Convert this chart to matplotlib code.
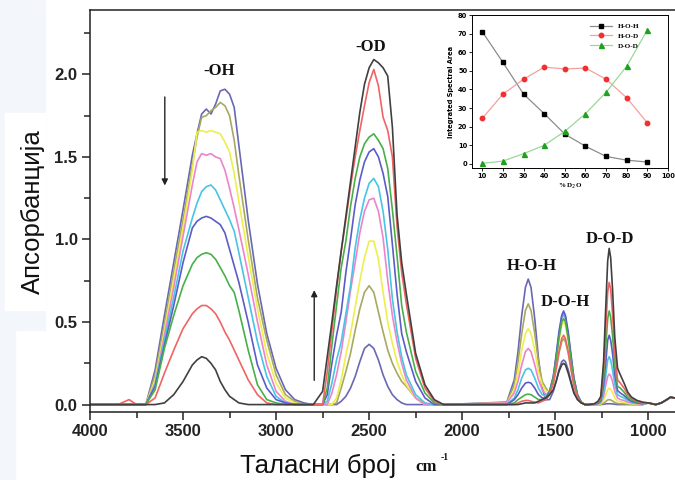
import matplotlib
matplotlib.use("Agg")
import matplotlib.pyplot as plt
from matplotlib.ticker import MultipleLocator
from matplotlib.patches import Rectangle

# ---------------- data ----------------
# curves ordered by D2O content: 10 % ... 90 %
d2o_pct = [10, 20, 30, 40, 50, 60, 70, 80, 90]
curve_colors = ["#6868b4", "#a8a860", "#eeee4c", "#ec84cc", "#48c4e4",
                "#5c5cc8", "#48b048", "#f06464", "#404040"]

# -OH stretching band
oh_wn = [4000, 3850, 3790, 3750, 3700, 3650, 3600, 3550, 3500, 3450,
         3425, 3400, 3375, 3350, 3325, 3300, 3275, 3250, 3225, 3200,
         3150, 3100, 3050, 3000, 2950, 2900, 2850, 2800]
oh_abs = [
    [0, 0, 0, 0, 0, 0.21, 0.54, 0.86, 1.18, 1.51, 1.64, 1.76, 1.79, 1.76, 1.82, 1.90, 1.91, 1.88, 1.80, 1.57, 1.12, 0.73, 0.43, 0.22, 0.09, 0.03, 0.01, 0],
    [0, 0, 0, 0, 0, 0.18, 0.49, 0.81, 1.12, 1.45, 1.62, 1.74, 1.75, 1.78, 1.80, 1.83, 1.81, 1.75, 1.60, 1.39, 1.00, 0.645, 0.39, 0.18, 0.06, 0.02, 0, 0],
    [0, 0, 0, 0, 0, 0.15, 0.45, 0.76, 1.07, 1.42, 1.65, 1.66, 1.65, 1.66, 1.65, 1.64, 1.59, 1.53, 1.40, 1.23, 0.90, 0.58, 0.31, 0.13, 0.04, 0.01, 0, 0],
    [0, 0, 0, 0, 0, 0.13, 0.42, 0.71, 1.02, 1.33, 1.47, 1.52, 1.51, 1.52, 1.50, 1.49, 1.42, 1.31, 1.19, 1.06, 0.79, 0.50, 0.24, 0.08, 0.02, 0, 0, 0],
    [0, 0, 0, 0, 0, 0.12, 0.39, 0.65, 0.93, 1.13, 1.22, 1.29, 1.32, 1.33, 1.30, 1.24, 1.18, 1.12, 1.05, 0.92, 0.65, 0.38, 0.17, 0.05, 0.01, 0, 0, 0],
    [0, 0, 0, 0, 0, 0.11, 0.36, 0.60, 0.86, 1.07, 1.11, 1.13, 1.14, 1.13, 1.11, 1.09, 1.04, 0.94, 0.84, 0.74, 0.50, 0.24, 0.10, 0.03, 0.01, 0, 0, 0],
    [0, 0, 0, 0, 0, 0.09, 0.34, 0.54, 0.72, 0.85, 0.89, 0.91, 0.92, 0.91, 0.88, 0.83, 0.78, 0.72, 0.68, 0.57, 0.33, 0.12, 0.03, 0.01, 0, 0, 0, 0],
    [0, 0, 0.03, 0, 0, 0.04, 0.19, 0.33, 0.46, 0.55, 0.58, 0.60, 0.60, 0.58, 0.55, 0.50, 0.44, 0.39, 0.33, 0.27, 0.15, 0.06, 0.01, 0, 0, 0, 0, 0],
    [0, 0, 0, 0, 0, 0, 0.01, 0.06, 0.14, 0.24, 0.27, 0.29, 0.28, 0.25, 0.21, 0.14, 0.09, 0.05, 0.03, 0.01, 0, 0, 0, 0, 0, 0, 0, 0],
]

# -OD stretching band
od_wn = [2750, 2725, 2700, 2675, 2650, 2625, 2600, 2575, 2550, 2525, 2500,
         2475, 2450, 2425, 2400, 2375, 2350, 2325, 2300, 2250, 2200, 2150, 2100]
od_abs = [
    [0, 0, 0, 0, 0.02, 0.05, 0.10, 0.17, 0.26, 0.34, 0.365, 0.34, 0.27, 0.18, 0.11, 0.06, 0.03, 0.01, 0, 0, 0, 0, 0],
    [0, 0, 0, 0.01, 0.10, 0.20, 0.31, 0.45, 0.58, 0.68, 0.72, 0.68, 0.56, 0.44, 0.33, 0.25, 0.19, 0.14, 0.11, 0.04, 0, 0, 0],
    [0, 0, 0, 0.04, 0.15, 0.30, 0.43, 0.59, 0.75, 0.89, 0.99, 0.99, 0.88, 0.68, 0.50, 0.37, 0.26, 0.18, 0.12, 0.04, 0, 0, 0],
    [0, 0, 0.07, 0.18, 0.32, 0.50, 0.69, 0.86, 1.04, 1.17, 1.24, 1.25, 1.17, 1.01, 0.75, 0.54, 0.38, 0.25, 0.15, 0.04, 0, 0, 0],
    [0, 0.02, 0.13, 0.27, 0.38, 0.55, 0.72, 0.95, 1.12, 1.25, 1.34, 1.37, 1.32, 1.17, 0.94, 0.64, 0.44, 0.29, 0.18, 0.06, 0.01, 0, 0],
    [0, 0.06, 0.25, 0.42, 0.56, 0.80, 1.00, 1.21, 1.36, 1.47, 1.53, 1.55, 1.50, 1.40, 1.26, 0.97, 0.67, 0.43, 0.32, 0.14, 0.04, 0, 0],
    [0, 0.10, 0.36, 0.60, 0.83, 0.99, 1.20, 1.37, 1.50, 1.58, 1.62, 1.64, 1.60, 1.55, 1.43, 1.18, 0.90, 0.60, 0.44, 0.20, 0.07, 0.01, 0],
    [0, 0.20, 0.45, 0.70, 0.93, 1.12, 1.32, 1.50, 1.66, 1.81, 1.95, 2.03, 1.93, 1.74, 1.66, 1.50, 1.08, 0.80, 0.61, 0.28, 0.10, 0.02, 0],
    [0.08, 0.29, 0.50, 0.72, 0.93, 1.14, 1.35, 1.56, 1.77, 1.94, 2.04, 2.09, 2.07, 2.04, 1.99, 1.68, 1.15, 0.86, 0.67, 0.31, 0.12, 0.03, 0],
]

# H-O-H bending band
hoh_wn = [1760, 1720, 1700, 1680, 1660, 1645, 1630, 1610, 1590, 1570, 1550]
hoh_abs = [
    [0.015, 0.15, 0.32, 0.54, 0.71, 0.76, 0.71, 0.52, 0.28, 0.10, 0.03],
    [0.01, 0.12, 0.26, 0.43, 0.57, 0.61, 0.57, 0.43, 0.26, 0.14, 0.10],
    [0.01, 0.09, 0.19, 0.33, 0.43, 0.46, 0.43, 0.33, 0.20, 0.12, 0.08],
    [0.01, 0.07, 0.14, 0.24, 0.32, 0.34, 0.32, 0.24, 0.15, 0.09, 0.06],
    [0, 0.04, 0.09, 0.16, 0.21, 0.22, 0.21, 0.16, 0.10, 0.06, 0.05],
    [0, 0.03, 0.06, 0.10, 0.13, 0.135, 0.13, 0.10, 0.06, 0.04, 0.04],
    [0, 0.01, 0.03, 0.045, 0.06, 0.063, 0.06, 0.045, 0.03, 0.03, 0.03],
    [0, 0, 0.01, 0.02, 0.025, 0.025, 0.02, 0.015, 0.01, 0.02, 0.03],
    [0, 0, 0, 0.005, 0.01, 0.01, 0.01, 0.01, 0.02, 0.03, 0.04],
]

# D-O-H bending band
doh_wn = [1530, 1510, 1495, 1480, 1465, 1455, 1445, 1430, 1415, 1400, 1380, 1360, 1340]
doh_abs = [
    [0.03, 0.08, 0.14, 0.21, 0.26, 0.27, 0.26, 0.21, 0.14, 0.08, 0.03, 0.01, 0],
    [0.07, 0.13, 0.21, 0.31, 0.38, 0.40, 0.38, 0.31, 0.21, 0.12, 0.04, 0.01, 0],
    [0.08, 0.16, 0.26, 0.385, 0.48, 0.50, 0.48, 0.385, 0.26, 0.145, 0.05, 0.01, 0],
    [0.08, 0.17, 0.28, 0.42, 0.52, 0.545, 0.52, 0.42, 0.28, 0.16, 0.055, 0.015, 0],
    [0.08, 0.17, 0.29, 0.42, 0.53, 0.55, 0.53, 0.42, 0.29, 0.16, 0.055, 0.015, 0],
    [0.08, 0.17, 0.30, 0.44, 0.54, 0.567, 0.54, 0.44, 0.30, 0.165, 0.06, 0.015, 0],
    [0.07, 0.16, 0.27, 0.40, 0.50, 0.52, 0.50, 0.40, 0.27, 0.15, 0.05, 0.013, 0],
    [0.06, 0.13, 0.22, 0.32, 0.40, 0.42, 0.40, 0.32, 0.22, 0.12, 0.04, 0.01, 0],
    [0.06, 0.09, 0.14, 0.20, 0.24, 0.25, 0.24, 0.19, 0.13, 0.07, 0.03, 0.01, 0],
]

# D-O-D bending band
dod_wn = [1320, 1290, 1270, 1255, 1240, 1228, 1218, 1210, 1202, 1192,
          1180, 1165, 1150, 1130, 1110, 1090, 1060, 1030]
dod_abs = [
    [0, 0, 0, 0, 0.002, 0.004, 0.005, 0.005, 0.005, 0.004, 0.002, 0, 0, 0, 0, 0, 0, 0],
    [0, 0, 0, 0.002, 0.008, 0.019, 0.028, 0.03, 0.028, 0.022, 0.013, 0.006, 0.005, 0.004, 0.003, 0.002, 0.001, 0],
    [0, 0, 0.002, 0.005, 0.027, 0.062, 0.09, 0.098, 0.092, 0.073, 0.042, 0.02, 0.017, 0.013, 0.008, 0.005, 0.003, 0.002],
    [0, 0, 0.004, 0.01, 0.05, 0.12, 0.17, 0.185, 0.175, 0.14, 0.08, 0.04, 0.03, 0.025, 0.015, 0.01, 0.005, 0.003],
    [0, 0.001, 0.006, 0.016, 0.08, 0.18, 0.27, 0.29, 0.27, 0.21, 0.125, 0.06, 0.05, 0.04, 0.025, 0.015, 0.008, 0.005],
    [0, 0.002, 0.008, 0.023, 0.12, 0.26, 0.39, 0.42, 0.39, 0.31, 0.18, 0.085, 0.07, 0.055, 0.035, 0.02, 0.01, 0.006],
    [0, 0.003, 0.011, 0.03, 0.16, 0.36, 0.52, 0.567, 0.53, 0.42, 0.24, 0.11, 0.10, 0.075, 0.045, 0.03, 0.015, 0.01],
    [0, 0.004, 0.015, 0.04, 0.21, 0.47, 0.68, 0.74, 0.70, 0.55, 0.32, 0.15, 0.13, 0.10, 0.06, 0.04, 0.02, 0.01],
    [0, 0.005, 0.02, 0.05, 0.26, 0.60, 0.87, 0.946, 0.89, 0.70, 0.41, 0.22, 0.18, 0.13, 0.075, 0.045, 0.025, 0.015],
]

# low-wavenumber end (same for all spectra)
tail_wn = [1000, 960, 930, 900, 880, 860, 840, 820, 800]
tail_abs = [0.01, 0.0, 0.01, 0.03, 0.045, 0.04, 0.045, 0.06, 0.07]

# inset: integrated spectral area vs % D2O
area_hoh = [71, 54.5, 37.5, 27, 16, 9.5, 4, 2, 1]
area_hod = [24.5, 37.5, 45.5, 52, 51, 51.5, 45.5, 35.5, 22]
area_dod = [0.3, 1.5, 5.5, 10, 17.5, 27, 38.5, 52.5, 72]

TICK_FONT = dict(family="Liberation Sans", weight="bold", size=12, color="#222222")
PEAK_FONT = dict(family="Liberation Serif", weight="bold", size=12, color="#111111")

fig = plt.figure(figsize=(6.75, 4.8), dpi=100)
W, H = 675.0, 480.0

# pale page background on the left edge
fig.patches.append(Rectangle((0, 0), 15 / W, 1, transform=fig.transFigure,
                             color="#f3f6fb", zorder=-10))
fig.patches.append(Rectangle((15 / W, 150 / H), 30 / W, 330 / H, transform=fig.transFigure,
                             color="#f3f6fb", zorder=-10))
fig.patches.append(Rectangle((5 / W, 1 - 310 / H), 40 / W, 197 / H, transform=fig.transFigure,
                             color="white", zorder=-9))

ax = fig.add_axes([90 / W, 1 - 412 / H, 585 / W + 0.01, 402 / H])
for i, col in enumerate(curve_colors):
    wn = oh_wn + od_wn + hoh_wn + doh_wn + dod_wn + tail_wn
    ab = oh_abs[i] + od_abs[i] + hoh_abs[i] + doh_abs[i] + dod_abs[i] + tail_abs
    ax.plot(wn, ab, color=col, lw=1.2, solid_joinstyle="round")

ax.set_xlim(4000, 820)
ax.set_ylim(-0.045, 2.39)
ax.spines["right"].set_visible(False)
for s in ["left", "bottom", "top"]:
    ax.spines[s].set_linewidth(1.1)
    ax.spines[s].set_color("#222222")

ax.xaxis.set_major_locator(MultipleLocator(500))
ax.xaxis.set_minor_locator(MultipleLocator(250))
ax.yaxis.set_major_locator(MultipleLocator(0.5))
ax.yaxis.set_minor_locator(MultipleLocator(0.25))
ax.tick_params(which="major", direction="out", length=6, width=1.1, pad=3, color="#222222")
ax.tick_params(which="minor", direction="out", length=4, width=1.1, color="#222222")
ax.set_xticks([4000, 3500, 3000, 2500, 2000, 1500, 1000])
ax.set_xticklabels(["4000", "3500", "3000", "2500", "2000", "1500", "1000"], fontdict=TICK_FONT)
ax.set_yticks([0.0, 0.5, 1.0, 1.5, 2.0])
ax.set_yticklabels(["0.0", "0.5", "1.0", "1.5", "2.0"], fontdict=TICK_FONT)

# band labels
ax.text(3304, 2.02, "-OH", ha="center", va="center", **PEAK_FONT)
ax.text(2489, 2.165, "-OD", ha="center", va="center", **PEAK_FONT)
ax.text(1625, 0.84, "H-O-H", ha="center", va="center", **PEAK_FONT)
ax.text(1446, 0.624, "D-O-H", ha="center", va="center", **PEAK_FONT)
ax.text(1207, 1.003, "D-O-D", ha="center", va="center", **PEAK_FONT)

# trend arrows
arrow = dict(arrowstyle="-|>", color="#222222", lw=1.0, mutation_scale=9)
ax.annotate("", xy=(3598, 1.31), xytext=(3598, 1.88), arrowprops=arrow)
ax.annotate("", xy=(2795, 0.71), xytext=(2795, 0.13), arrowprops=arrow)

# axis titles
fig.text(33 / W, 1 - 212 / H, "Апсорбанција", rotation=90, ha="center", va="center",
         family="Liberation Sans", size=18.5, color="#111111")
fig.text(318 / W, 1 - 466 / H, "Таласни број", ha="center", va="center",
         family="Liberation Sans", size=18.5, color="#111111")
fig.text(415 / W, 1 - 467 / H, "cm", ha="left", va="center",
         family="Liberation Serif", weight="bold", size=12, color="#111111")
fig.text(441 / W, 1 - 458 / H, "-1", ha="left", va="center",
         family="Liberation Serif", weight="bold", size=7, color="#111111")

# inset
axi = fig.add_axes([472 / W, 1 - 168 / H, 196 / W, 153 / H])
axi.plot(d2o_pct, area_hoh, color="#8c8c8c", lw=0.9, marker="s", ms=3.2,
         mfc="black", mec="black", label="H-O-H")
axi.plot(d2o_pct, area_hod, color="#f4a0a0", lw=0.9, marker="o", ms=3.2,
         mfc="#f03030", mec="#f03030", label="H-O-D")
axi.plot(d2o_pct, area_dod, color="#98d898", lw=0.9, marker="^", ms=3.6,
         mfc="#20a020", mec="#20a020", label="D-O-D")
axi.set_xlim(5, 100)
axi.set_ylim(-2.2, 80)
axi.xaxis.set_major_locator(MultipleLocator(10))
axi.yaxis.set_major_locator(MultipleLocator(10))
axi.tick_params(direction="out", length=2, width=0.6, pad=1.5, labelsize=4.8)
for lab in axi.get_xticklabels() + axi.get_yticklabels():
    lab.set_fontweight("bold")
for s in axi.spines.values():
    s.set_linewidth(0.7)
axi.set_xlabel("% D$_2$O", fontsize=5, fontweight="bold", family="Liberation Serif", labelpad=2)
axi.set_ylabel("Integrated Spectral Area", fontsize=4.8, fontweight="bold", labelpad=3)
axi.legend(loc="upper right", frameon=False, bbox_to_anchor=(0.88, 0.98),
           prop=dict(family="Liberation Serif", weight="bold", size=5.2),
           handlelength=3, labelspacing=0.5, borderaxespad=0.3)

plt.savefig("out.png", dpi=100)
